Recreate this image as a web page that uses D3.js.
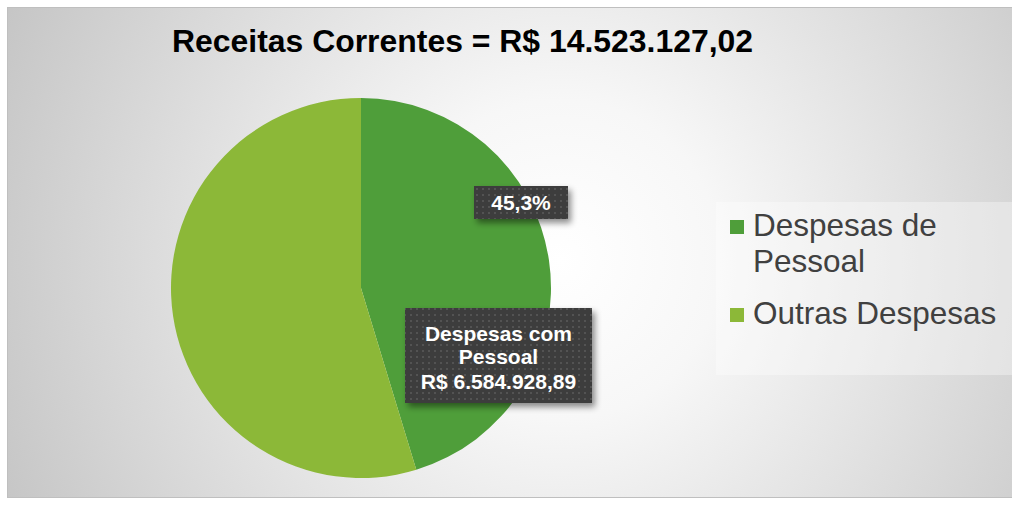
<!DOCTYPE html>
<html><head><meta charset="utf-8">
<script src="https://cdn.jsdelivr.net/npm/d3@7"></script>
<style>html,body{margin:0;padding:0;background:#fff;}svg{display:block;}</style>
</head><body>
<script>
const categories = ["Despesas de Pessoal", "Outras Despesas"];
const values = [45.3, 54.7];
const colors = ["#4f9e3a", "#8cb838"];
const titleText = "Receitas Correntes = R$ 14.523.127,02";
const pctLabel = "45,3%";
const valueLabelLines = ["Despesas com", "Pessoal", "R$ 6.584.928,89"];

const W = 1012, H = 505;
const svg = d3.select("body").append("svg").attr("width", W).attr("height", H);
const defs = svg.append("defs");

const rg = defs.append("radialGradient").attr("id","bg").attr("gradientUnits","userSpaceOnUse")
  .attr("cx",560).attr("cy",260).attr("r",640);
rg.append("stop").attr("offset","0").attr("stop-color","#ffffff");
rg.append("stop").attr("offset","0.25").attr("stop-color","#f7f7f7");
rg.append("stop").attr("offset","1").attr("stop-color","#c2c2c2");

const pat = defs.append("pattern").attr("id","dots").attr("patternUnits","userSpaceOnUse")
  .attr("width",6).attr("height",6);
pat.append("rect").attr("width",6).attr("height",6).attr("fill","#3d3d3d");
pat.append("rect").attr("x",2).attr("y",2).attr("width",2).attr("height",2).attr("fill","#525252");

const sh = defs.append("filter").attr("id","shadow").attr("x","-20%").attr("y","-20%").attr("width","150%").attr("height","160%");
sh.append("feDropShadow").attr("dx",3).attr("dy",4).attr("stdDeviation",3).attr("flood-color","#000").attr("flood-opacity",0.45);

svg.append("rect").attr("x",0).attr("y",0).attr("width",W).attr("height",H).attr("fill","#ffffff");
svg.append("rect").attr("x",7.5).attr("y",7.5).attr("width",1012).attr("height",490)
  .attr("fill","url(#bg)").attr("stroke","#bfbfbf").attr("stroke-width",1);

// title
const title = svg.append("text").attr("x",172).attr("y",52)
  .attr("font-family","Liberation Sans, Arial, sans-serif").attr("font-weight","bold")
  .attr("font-size",31).attr("fill","#000").text(titleText);
const tl = title.node().getComputedTextLength();
if (Math.abs(tl - 581) > 4) title.attr("textLength",581).attr("lengthAdjust","spacingAndGlyphs");

// pie
const cx = 361, cy = 288, R = 190;
const pie = d3.pie().sort(null).value(d => d)(values);
const arc = d3.arc().innerRadius(0).outerRadius(R);
const g = svg.append("g").attr("transform",`translate(${cx},${cy})`);
g.selectAll("path").data(pie).join("path").attr("d",arc).attr("fill",(d,i)=>colors[i]);

// data labels
function labelBox(x0,y0,w,h,lines,baselines,fs){
  const lg = svg.append("g");
  lg.append("rect").attr("x",x0).attr("y",y0).attr("width",w).attr("height",h)
    .attr("fill","url(#dots)").attr("filter","url(#shadow)");
  lines.forEach((t,i)=>{
    lg.append("text").attr("x",x0+w/2).attr("y",baselines[i]).attr("text-anchor","middle")
      .attr("font-family","Liberation Sans, Arial, sans-serif").attr("font-weight","bold")
      .attr("font-size",fs).attr("fill","#ffffff").text(t);
  });
}
labelBox(cx+113, cy-102, 94, 33, [pctLabel], [cy-78], 21);
labelBox(cx+44, cy+20, 187, 95, valueLabelLines, [cy+53, cy+76, cy+101], 21);

// legend
svg.append("rect").attr("x",716).attr("y",202).attr("width",300).attr("height",173)
  .attr("fill","#ffffff").attr("fill-opacity",0.35);
const legItems = [
  {lines:["Despesas de","Pessoal"], y:236},
  {lines:["Outras Despesas"], y:324}
];
legItems.forEach((it,i)=>{
  svg.append("rect").attr("x",730).attr("y",it.y-16).attr("width",14).attr("height",14).attr("fill",colors[i]);
  it.lines.forEach((t,j)=>{
    svg.append("text").attr("x",753).attr("y",it.y + j*36)
      .attr("font-family","Liberation Sans, Arial, sans-serif").attr("font-size",31.5)
      .attr("fill","#404040").text(t);
  });
});
</script>
</body></html>
